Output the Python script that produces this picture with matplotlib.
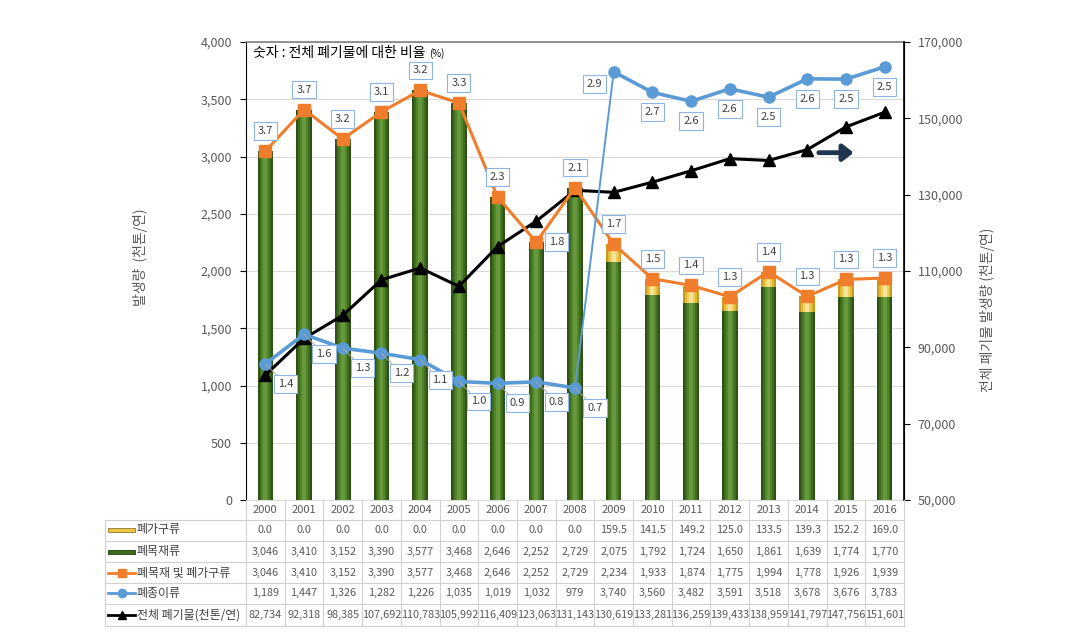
import matplotlib.pyplot as plt
import matplotlib.transforms as mtransforms
from matplotlib.ticker import FuncFormatter, MultipleLocator, FixedLocator
from matplotlib.lines import Line2D
from matplotlib.patches import Rectangle

plt.rcParams['font.family'] = ['Noto Sans CJK KR', 'DejaVu Sans']

# 데이터
years = [str(y) for y in range(2000, 2017)]
furniture = [0.0, 0.0, 0.0, 0.0, 0.0, 0.0, 0.0, 0.0, 0.0,
             159.5, 141.5, 149.2, 125.0, 133.5, 139.3, 152.2, 169.0]
wood = [3046, 3410, 3152, 3390, 3577, 3468, 2646, 2252, 2729,
        2075, 1792, 1724, 1650, 1861, 1639, 1774, 1770]
wood_furn = [3046, 3410, 3152, 3390, 3577, 3468, 2646, 2252, 2729,
             2234, 1933, 1874, 1775, 1994, 1778, 1926, 1939]
paper = [1189, 1447, 1326, 1282, 1226, 1035, 1019, 1032, 979,
         3740, 3560, 3482, 3591, 3518, 3678, 3676, 3783]
total = [82734, 92318, 98385, 107692, 110783, 105992, 116409, 123063, 131143,
         130619, 133281, 136259, 139433, 138959, 141797, 147756, 151601]
wood_ratio = [3.7, 3.7, 3.2, 3.1, 3.2, 3.3, 2.3, 1.8, 2.1, 1.7, 1.5, 1.4, 1.3, 1.4, 1.3, 1.3, 1.3]
paper_ratio = [1.4, 1.6, 1.3, 1.2, 1.1, 1.0, 0.9, 0.8, 0.7, 2.9, 2.7, 2.6, 2.6, 2.5, 2.6, 2.5, 2.5]

row_names = ['폐가구류', '폐목재류', '폐목재 및 폐가구류', '폐종이류', '전체 폐기물(천톤/연)']

W, H = 1072, 644
def fx(px):
    return px / W
def fy(py):
    return 1 - py / H

ORANGE = '#f07d2b'
BLUE = '#5b9bd5'
GREEN = '#3d6b1c'
YELLOW = '#f0c43c'
GRAY = '#595959'

fig = plt.figure(figsize=(W / 100, H / 100), dpi=100)
ax = fig.add_axes([fx(246), fy(500), fx(904) - fx(246), fy(42) - fy(500)])
ax2 = ax.twinx()
ax3 = ax.twinx()

x = list(range(len(years)))

# 막대 (원통 느낌)
widths = [0.40, 0.30, 0.20, 0.10]
greens = ['#2e5213', '#3f6b1f', '#52852b', '#66993b']
yellows = ['#c99a1c', '#e2b838', '#f0cf5e', '#f8e496']
for w_, g, yc in zip(widths, greens, yellows):
    ax.bar(x, wood, width=w_, color=g, zorder=2)
    ax.bar(x, furniture, bottom=wood, width=w_, color=yc, zorder=2)

ax.set_xlim(-0.5, len(years) - 0.5)
ax.set_ylim(0, 4000)
ax.yaxis.set_major_locator(MultipleLocator(500))
ax.yaxis.set_major_formatter(FuncFormatter(lambda v, p: f'{v:,.0f}'))
ax.set_xticks([])
ax.yaxis.grid(True, color='#d9d9d9', lw=0.8)
ax.set_axisbelow(True)
ax.tick_params(axis='y', labelsize=9, labelcolor=GRAY, length=4, pad=6)
ax.spines['top'].set_color('#808080')
ax.spines['top'].set_linewidth(1.2)
ax.spines['bottom'].set_color('#d9d9d9')
ax.spines['left'].set_color('black')

# 전체 폐기물 (오른쪽 축)
ax2.plot(x, total, color='black', lw=2.2, marker='^', markersize=8, zorder=3)
ax2.set_ylim(50000, 170000)
ax2.yaxis.set_major_locator(FixedLocator(list(range(50000, 170001, 20000))))
ax2.yaxis.set_major_formatter(FuncFormatter(lambda v, p: f'{v:,.0f}'))
ax2.tick_params(axis='y', labelsize=9, labelcolor=GRAY, length=4, pad=6)
ax2.spines['right'].set_color('black')
ax2.spines['right'].set_linewidth(1.2)
for s in ['top', 'bottom', 'left']:
    ax2.spines[s].set_visible(False)
ax2.annotate('', xy=(15.2, 141000), xytext=(14.3, 141000),
             arrowprops=dict(arrowstyle='-|>,head_width=0.35,head_length=0.45',
                             lw=3.5, color='#1f3550', shrinkA=0, shrinkB=0,
                             mutation_scale=14))

# 꺾은선 (왼쪽 축)
ax3.set_ylim(ax.get_ylim())
ax3.axis('off')
ax3.plot(x, wood_furn, color=ORANGE, lw=2.2, marker='s', markersize=8, zorder=3)
ax3.plot(x[:9], paper[:9], color=BLUE, lw=2.6, zorder=3)
ax3.plot(x[8:10], paper[8:10], color=BLUE, lw=1.4, zorder=3)
ax3.plot(x[9:], paper[9:], color=BLUE, lw=2.6, zorder=3)
ax3.plot(x, paper, color=BLUE, lw=0, marker='o', markersize=8, zorder=3)

box = dict(boxstyle='square,pad=0.35', fc='white', ec='#8eb4e3', lw=0.8)
for i, r in enumerate(wood_ratio):
    off = (20, 0) if i == 7 else (0, 20)
    ax3.annotate(f'{r:.1f}', (i, wood_furn[i]), xytext=off, textcoords='offset pixels',
                 ha='center', va='center', fontsize=8, color='#404040', bbox=box, zorder=5)
for i, r in enumerate(paper_ratio):
    if i < 9:
        off = (20, -20)
        ap = dict(arrowstyle='-', color='#a6a6a6', lw=0.7, shrinkA=0, shrinkB=0)
    elif i == 9:
        off = (-19, -12)
        ap = None
    else:
        off = (0, -20)
        ap = None
    ax3.annotate(f'{r:.1f}', (i, paper[i]), xytext=off, textcoords='offset pixels',
                 ha='center', va='center', fontsize=8, color='#404040', bbox=box,
                 arrowprops=ap, zorder=5)

t = ax3.text(fx(253 - 246) / (fx(904) - fx(246)), 0.975, '숫자 : 전체 폐기물에 대한 비율 ',
             transform=ax3.transAxes, fontsize=10, color='black', va='center', ha='left')
ax3.annotate('(%)', xy=(1, 0.5), xycoords=t, fontsize=7, va='center', ha='left')

# 축 제목
fig.text(fx(140), fy(257), '발생량  (천톤/연)', rotation=90, ha='center', va='center',
         fontsize=10, color=GRAY)
fig.text(fx(987), fy(310), '전체 폐기물 발생량 (천톤/연)', rotation=90, ha='center', va='center',
         fontsize=10, color=GRAY)

# 데이터 표
trans = mtransforms.blended_transform_factory(ax.transData, fig.transFigure)
row_y = [530, 552, 573, 593, 615]
line_y = [520, 541, 562, 583, 604, 626]
lc = '#d0d0d0'
for ly in line_y:
    fig.add_artist(Line2D([fx(105), fx(904)], [fy(ly), fy(ly)], color=lc, lw=0.8))
fig.add_artist(Line2D([fx(105), fx(105)], [fy(520), fy(626)], color=lc, lw=0.8))
for k in range(len(years) + 1):
    fig.add_artist(Line2D([k - 0.5, k - 0.5], [fy(500), fy(626)], transform=trans,
                          color=lc, lw=0.8))

rows = [
    [f'{v:.1f}' for v in furniture],
    [f'{v:,}' for v in wood],
    [f'{v:,}' for v in wood_furn],
    [f'{v:,}' for v in paper],
    [f'{v:,}' for v in total],
]
for i, yr in enumerate(years):
    fig.text(i, fy(510), yr, transform=trans, ha='center', va='center', fontsize=8, color=GRAY)
    for r, ry in zip(rows, row_y):
        fig.text(i, fy(ry), r[i], transform=trans, ha='center', va='center',
                 fontsize=7.8, color=GRAY)

# 범례 열
mid = [fx(108), fx(121.5), fx(135)]
fig.add_artist(Rectangle((fx(108), fy(532)), fx(27), fy(528) - fy(532), fc=YELLOW, ec='#8a7a30', lw=0.6))
fig.add_artist(Rectangle((fx(108), fy(554)), fx(27), fy(550) - fy(554), fc=GREEN, ec='#243f0d', lw=0.6))
fig.add_artist(Line2D(mid, [fy(573)] * 3, color=ORANGE, lw=2,
                      marker='s', markersize=6, markevery=[1]))
fig.add_artist(Line2D(mid, [fy(593)] * 3, color=BLUE, lw=2,
                      marker='o', markersize=6, markevery=[1]))
fig.add_artist(Line2D(mid, [fy(615)] * 3, color='black', lw=2,
                      marker='^', markersize=6, markevery=[1]))
for name, ry in zip(row_names, row_y):
    fig.text(fx(137), fy(ry), name, ha='left', va='center', fontsize=8.6, color='#404040')

fig.savefig('out.png', dpi=100)
